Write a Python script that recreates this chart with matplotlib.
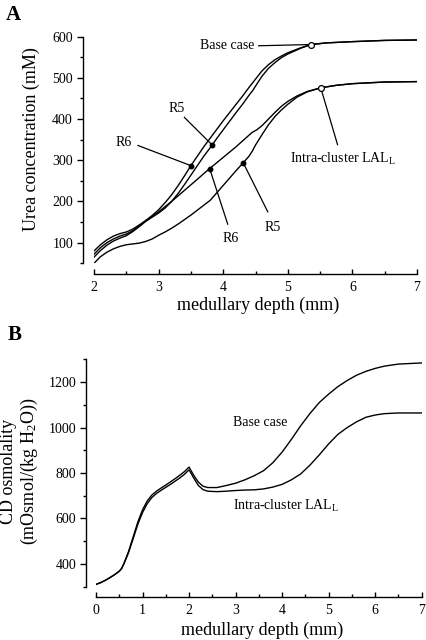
import matplotlib
matplotlib.use("Agg")
import matplotlib.pyplot as plt
from matplotlib.ticker import MultipleLocator

plt.rcParams['font.family'] = ['Liberation Serif', 'DejaVu Serif']
plt.rcParams['mathtext.fontset'] = 'custom'
plt.rcParams['mathtext.rm'] = 'Liberation Serif'
plt.rcParams['mathtext.it'] = 'Liberation Serif:italic'

# ---------------- Panel A data: urea concentration (mM) ----------------
base_r6_x = [2.0, 2.1, 2.2, 2.3, 2.4, 2.5, 2.6, 2.7, 2.8, 2.9, 3.0, 3.1, 3.2, 3.3, 3.4, 3.5,
             3.6, 3.7, 3.8, 3.9, 4.0, 4.1, 4.2, 4.3, 4.4, 4.5, 4.6, 4.7, 4.8, 4.9, 5.0,
             5.2, 5.36, 5.6, 6.0, 6.5, 7.0]
base_r6_y = [80, 95, 107, 116, 122, 126, 133, 143, 154, 166, 180, 197, 216, 238, 262, 287,
             310, 333, 354, 375, 396, 416, 436, 456, 477, 497, 517, 532, 544, 553, 561,
             573, 581, 585, 588, 591, 592]

base_r5_x = [2.0, 2.1, 2.2, 2.3, 2.4, 2.5, 2.6, 2.7, 2.8, 2.9, 3.0, 3.1, 3.2, 3.3, 3.4, 3.5,
             3.6, 3.7, 3.83, 3.9, 4.0, 4.1, 4.2, 4.3, 4.4, 4.46, 4.5, 4.6, 4.7, 4.8, 4.9, 5.0,
             5.2, 5.36, 5.6, 6.0, 6.5, 7.0]
base_r5_y = [72, 88, 100, 109, 116, 121, 129, 140, 152, 162, 172, 184, 200, 219, 241, 264,
             287, 310, 337, 353, 374, 395, 416, 436, 458, 470, 480, 504, 523, 537, 549, 558,
             572, 581, 585, 588, 591, 592]

lal_r6_x = [2.0, 2.1, 2.2, 2.3, 2.4, 2.5, 2.6, 2.7, 2.8, 2.9, 3.0, 3.2, 3.4, 3.6, 3.79,
            4.0, 4.2, 4.4, 4.45, 4.52, 4.6, 4.7, 4.8, 4.9, 5.0, 5.14, 5.3, 5.51, 5.75,
            6.0, 6.5, 7.0]
lal_r6_y = [65, 81, 94, 104, 111, 117, 127, 139, 152, 163, 175, 200, 227, 254, 280,
            307, 333, 361, 368, 374, 384, 400, 416, 431, 443, 456, 467, 476, 482,
            486, 490, 491]

lal_r5_x = [2.0, 2.1, 2.2, 2.3, 2.4, 2.5, 2.6, 2.7, 2.8, 2.9, 3.0, 3.1, 3.2, 3.3, 3.4, 3.5,
            3.6, 3.7, 3.8, 3.9, 4.0, 4.1, 4.2, 4.31, 4.4, 4.45, 4.5, 4.6, 4.7, 4.8, 4.9,
            5.0, 5.14, 5.3, 5.51, 5.75, 6.0, 6.5, 7.0]
lal_r5_y = [50, 66, 77, 85, 91, 95, 97, 99, 103, 109, 118, 126, 135, 145, 156, 167,
            179, 191, 203, 221, 239, 257, 275, 294, 310, 322, 337, 362, 386, 406, 422,
            436, 453, 466, 476, 482, 486, 490, 491]

# ---------------- Panel B data: CD osmolality ----------------
osm_base_x = [0.0, 0.1, 0.2, 0.3, 0.4, 0.5, 0.55, 0.6, 0.7, 0.8, 0.9, 1.0, 1.1, 1.2, 1.3,
              1.4, 1.5, 1.6, 1.7, 1.8, 1.9, 2.0, 2.1, 2.2, 2.3, 2.4, 2.6, 2.8, 3.0, 3.2,
              3.4, 3.6, 3.8, 4.0, 4.2, 4.4, 4.6, 4.8, 5.0, 5.2, 5.4, 5.6, 5.8, 6.0, 6.2,
              6.5, 7.0]
osm_base_y = [310, 318, 328, 340, 353, 368, 380, 402, 455, 520, 585, 638, 677, 703, 720,
              734, 747, 761, 775, 790, 806, 826, 790, 760, 742, 736, 736, 745, 755, 770,
              788, 810, 845, 892, 948, 1008, 1062, 1110, 1147, 1180, 1207, 1230, 1247,
              1260, 1270, 1279, 1284]

osm_lal_x = [0.0, 0.1, 0.2, 0.3, 0.4, 0.5, 0.55, 0.6, 0.7, 0.8, 0.9, 1.0, 1.1, 1.2, 1.3,
             1.4, 1.5, 1.6, 1.7, 1.8, 1.9, 2.0, 2.1, 2.2, 2.3, 2.4, 2.6, 2.8, 3.0, 3.2,
             3.4, 3.6, 3.8, 4.0, 4.2, 4.4, 4.6, 4.8, 5.0, 5.2, 5.4, 5.6, 5.8, 6.0, 6.2,
             6.5, 7.0]
osm_lal_y = [310, 318, 328, 340, 353, 368, 380, 400, 450, 512, 575, 626, 665, 692, 710,
             724, 737, 750, 764, 778, 794, 814, 778, 745, 727, 720, 718, 720, 723, 725,
             726, 730, 738, 750, 770, 796, 835, 880, 928, 970, 1000, 1025, 1045, 1055,
             1061, 1064, 1064]

W, H = 426, 640
fig = plt.figure(figsize=(W / 100, H / 100), dpi=100)


def frac_rect(left, right, top, bottom):
    return [left / W, 1 - bottom / H, (right - left) / W, (bottom - top) / H]


def style_axes(ax, out_left, out_bottom):
    for s in ('top', 'right'):
        ax.spines[s].set_visible(False)
    ax.spines['left'].set_position(('outward', out_left * 0.72))
    ax.spines['bottom'].set_position(('outward', out_bottom * 0.72))
    ax.spines['left'].set_linewidth(1.0)
    ax.spines['bottom'].set_linewidth(1.0)
    ax.tick_params(axis='y', which='major', direction='out', length=4.2, width=1.0,
                   labelsize=10, pad=3)
    ax.tick_params(axis='y', which='minor', direction='out', length=2.4, width=1.0)
    ax.tick_params(axis='x', which='major', direction='in', length=3.8, width=1.0,
                   labelsize=10, pad=5)
    ax.tick_params(axis='x', which='minor', direction='in', length=2.4, width=1.0)
    ax.patch.set_visible(False)


lw = 1.0
# ---------------- Panel A ----------------
axA = fig.add_axes(frac_rect(94, 417, 36.7, 263.3))
axA.plot(base_r6_x, base_r6_y, color='black', lw=lw)
axA.plot(base_r5_x, base_r5_y, color='black', lw=lw)
axA.plot(lal_r6_x, lal_r6_y, color='black', lw=lw)
axA.plot(lal_r5_x, lal_r5_y, color='black', lw=lw)
axA.set_xlim(2, 7)
axA.set_ylim(50, 600)
axA.xaxis.set_major_locator(MultipleLocator(1))
axA.xaxis.set_minor_locator(MultipleLocator(0.5))
axA.yaxis.set_major_locator(MultipleLocator(100))
axA.yaxis.set_minor_locator(MultipleLocator(50))
axA.set_yticks([100, 200, 300, 400, 500, 600])
style_axes(axA, 11, 11)


def leader(ax, x0, y0, x1, y1, filled=True):
    ax.plot([x0, x1], [y0, y1], color='black', lw=0.9)
    if filled:
        ax.plot([x1], [y1], 'o', ms=3.2, mfc='black', mec='black', zorder=5)
    else:
        ax.plot([x1], [y1], 'o', ms=4.2, mfc='white', mec='black', mew=0.9, zorder=5)


leader(axA, 4.55, 578, 5.36, 581, filled=False)
axA.text(4.48, 578, 'Base case', fontsize=10, ha='right', va='center')
leader(axA, 3.40, 404, 3.83, 337)
axA.text(3.28, 426, 'R5', fontsize=10, ha='center', va='center')
leader(axA, 2.68, 336, 3.50, 287)
axA.text(2.46, 342, 'R6', fontsize=10, ha='center', va='center')
leader(axA, 4.07, 145, 3.79, 280)
axA.text(4.12, 110, 'R6', fontsize=10, ha='center', va='center')
leader(axA, 4.69, 175, 4.31, 294)
axA.text(4.77, 136, 'R5', fontsize=10, ha='center', va='center')
leader(axA, 5.77, 338, 5.51, 476, filled=False)
axA.text(5.03, 304, r'Intra-cluster LAL$_{\mathrm{L}}$', fontsize=10, ha='left', va='center')

fig.text(6 / W, 1 - 15 / H, 'A', fontsize=15, fontweight='bold', ha='left', va='center')
fig.text(31 / W, 1 - 139 / H, 'Urea concentration (mM)', fontsize=13, rotation=90,
         ha='center', va='center')
fig.text(258 / W, 1 - 305 / H, 'medullary depth (mm)', fontsize=13, ha='center', va='center')

# ---------------- Panel B ----------------
axB = fig.add_axes(frac_rect(96, 421.7, 359.3, 586.7))
axB.plot(osm_base_x, osm_base_y, color='black', lw=lw)
axB.plot(osm_lal_x, osm_lal_y, color='black', lw=lw)
axB.set_xlim(0, 7)
axB.set_ylim(300, 1300)
axB.xaxis.set_major_locator(MultipleLocator(1))
axB.xaxis.set_minor_locator(MultipleLocator(0.5))
axB.set_yticks([400, 600, 800, 1000, 1200])
axB.yaxis.set_minor_locator(MultipleLocator(100))
style_axes(axB, 10, 10)

axB.text(2.95, 1024, 'Base case', fontsize=10, ha='left', va='center')
axB.text(2.95, 657, r'Intra-cluster LAL$_{\mathrm{L}}$', fontsize=10, ha='left', va='center')

fig.text(8 / W, 1 - 335 / H, 'B', fontsize=15, fontweight='bold', ha='left', va='center')
fig.text(9 / W, 1 - 471 / H, 'CD osmolality', fontsize=13, rotation=90,
         ha='center', va='center')
fig.text(29 / W, 1 - 471 / H, r'(mOsmol/(kg H$_{\mathrm{2}}$O))', fontsize=13, rotation=90,
         ha='center', va='center')
fig.text(262 / W, 1 - 630 / H, 'medullary depth (mm)', fontsize=13, ha='center', va='center')

fig.savefig('out.png', dpi=100)
